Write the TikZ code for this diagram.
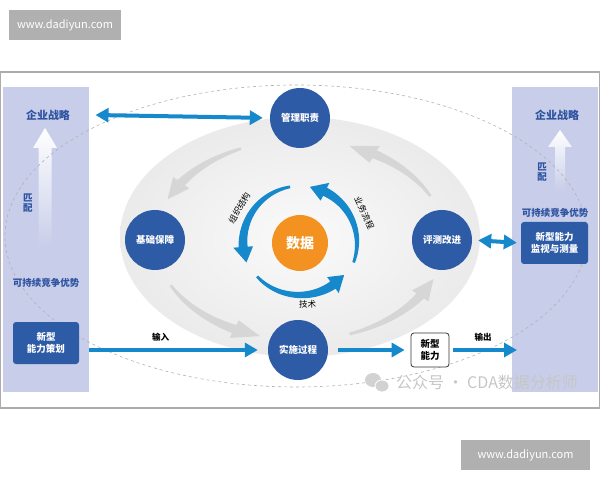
\documentclass[tikz,border=0pt]{standalone}
\usepackage{fontspec}
\setmainfont{Noto Sans CJK SC}
\usetikzlibrary{arrows.meta,positioning}

\definecolor{bleufonce}{RGB}{46,91,166}
\definecolor{bleuvif}{RGB}{22,136,204}
\definecolor{panneau}{RGB}{200,206,233}
\definecolor{texteb}{RGB}{45,82,160}
\definecolor{orangedata}{RGB}{243,146,32}

% fleche courbe effilee : rx, ry, debut, fin, demi-largeur, angle de la pointe
\newcommand{\flechecourbe}[6]{%
\fill plot[domain=#3:#4-#6, samples=30]
 ({(#1+(0.3+0.7*(\x-(#3))/(#4-#6-(#3)))*#5)*cos(\x)},{(#2+(0.3+0.7*(\x-(#3))/(#4-#6-(#3)))*#5)*sin(\x)})
 -- ({(#1+2.2*#5)*cos(#4-#6)},{(#2+2.2*#5)*sin(#4-#6)})
 -- ({#1*cos(#4)},{#2*sin(#4)})
 -- ({(#1-2.2*#5)*cos(#4-#6)},{(#2-2.2*#5)*sin(#4-#6)})
 -- plot[domain=#4-#6:#3, samples=30]
 ({(#1-(0.3+0.7*(\x-(#3))/(#4-#6-(#3)))*#5)*cos(\x)},{(#2-(0.3+0.7*(\x-(#3))/(#4-#6-(#3)))*#5)*sin(\x)})
 -- cycle;}

\tikzset{
rond/.style={circle, fill=bleufonce, text=white, inner sep=0pt,
  minimum size=60pt, font=\bfseries\fontsize{9.5}{11}\selectfont},
boite/.style={rounded corners=3pt, fill=bleufonce, text=white, align=center,
  minimum width=66pt, minimum height=42pt, inner sep=0pt,
  font=\bfseries\fontsize{9.5}{12.5}\selectfont},
titre/.style={text=texteb, font=\bfseries\fontsize{11}{13}\selectfont},
sous/.style={text=texteb, font=\bfseries\fontsize{9.5}{11}\selectfont},
vertical/.style={text=texteb, align=center, font=\bfseries\fontsize{9.5}{10}\selectfont},
petit/.style={font=\fontsize{8.5}{10}\selectfont},
fleche/.style={bleuvif, line width=4pt, -{Triangle[length=13pt,width=14pt]}},
filigrane/.style={fill=gray!62, text=white, inner sep=0pt,
  font=\fontsize{11}{13}\selectfont, minimum height=30pt}
}

\begin{document}
\begin{tikzpicture}[x=1pt,y=1pt]
\useasboundingbox (0,0) rectangle (600,480);

% Filigranes
\node[filigrane, minimum width=112pt] (wm1) at (65,455) {www.dadiyun.com};
\node[filigrane, minimum width=129pt] (wm2) at (525.5,25) {www.dadiyun.com};

% Cadre
\draw[gray!65, line width=1.2pt] (0.6,72) rectangle (599.4,408);

% Panneaux
\fill[panneau] (3,88) rectangle (89,393);
\fill[panneau] (512,88) rectangle (598,393);
\shade[top color=white, bottom color=panneau]
 (38.5,233) -- (38.5,332) -- (33,332) -- (45,352) -- (57,332) -- (51.5,332) -- (51.5,233) -- cycle;
\shade[top color=white, bottom color=panneau]
 (555,290) -- (555,333) -- (548,333) -- (560,350) -- (572,333) -- (565,333) -- (565,290) -- cycle;

% Fond gris
\shade[inner color=gray!4, outer color=gray!16] (300,243) ellipse [x radius=180, y radius=120];
\draw[gray!60, dashed, line width=0.6pt] (296,244) ellipse [x radius=291, y radius=151];

% Fleches grises
\begin{scope}[shift={(300,240)}, gray!32]
\flechecourbe{145}{100}{114}{156}{4.5}{11}
\flechecourbe{145}{100}{207}{254}{4.5}{11}
\flechecourbe{145}{100}{290}{337}{4.5}{11}
\flechecourbe{145}{100}{26}{70}{4.5}{11}
\end{scope}

% Panneau gauche
\node[titre] (lstrat) at (48,365) {企业战略};
\node[vertical] (lmatch) at (28,277) {匹\\配};
\node[sous] (lavant) at (46,197) {可持续竞争优势};
\node[boite] (plan) at (46,137) {新型\\能力策划};

% Panneau droit
\node[titre] (rstrat) at (557,365) {企业战略};
\node[vertical] (rmatch) at (542,308) {匹\\配};
\node[sous] (ravant) at (555,267) {可持续竞争优势};
\node[boite, minimum width=67pt] (suivi) at (554.5,237) {新型能力\\监视与测量};

% Cercles
\node[rond] (gestion) at (300,362) {管理职责};
\node[rond] (base) at (155,240) {基础保障};
\node[rond] (eval) at (442,240) {评测改进};
\node[rond] (mise) at (298,130) {实施过程};
\node[circle, fill=orangedata, text=white, inner sep=0pt, minimum size=56pt,
  font=\bfseries\fontsize{14}{16}\selectfont] (donnees) at (300,237) {数据};

% Fleches bleues autour des donnees
\begin{scope}[shift={(donnees.center)}, bleuvif]
\flechecourbe{57}{57}{100}{200}{4.5}{16}
\flechecourbe{56}{52}{220}{322}{4.5}{16}
\flechecourbe{57}{57}{340}{440}{4.5}{16}
\node[petit, text=black, rotate=60] (orga) at (150:70) {组织结构};
\node[petit, text=black, rotate=-65] (flux) at (25:71) {业务流程};
\node[petit, text=black] (tech) at (277:62) {技术};
\end{scope}

% Nouvelle capacite
\node[draw=black!80, line width=0.8pt, fill=white, rounded corners=3pt, align=center,
  minimum width=38pt, minimum height=34pt, inner sep=0pt,
  font=\bfseries\fontsize{9.5}{12.5}\selectfont] (nouveau) at (430,130) {新型\\能力};
\coordinate (sortie) at (517,130);

% Liaisons
\draw[fleche, {Triangle[length=13pt,width=14pt]}-{Triangle[length=13pt,width=14pt]}, shorten >=7pt]
 ([xshift=22pt]lstrat.east) -- (gestion.west);
\draw[fleche, {Triangle[length=13pt,width=14pt]}-{Triangle[length=13pt,width=14pt]}, shorten <=6pt, shorten >=4pt]
 (eval.east) -- (suivi.west);
\draw[fleche, shorten >=10pt] ([xshift=10pt]plan.east |- mise.west) -- (mise.west)
 node[pos=0.4, above=3pt, petit, font=\bfseries\fontsize{8.5}{10}\selectfont, text=black] (entree) {输入};
\draw[fleche, shorten <=10pt, shorten >=6pt] (mise.east) -- (nouveau.west);
\draw[fleche, shorten <=4pt] (nouveau.east) -- (sortie)
 node[midway, above=3pt, font=\bfseries\fontsize{8.5}{10}\selectfont, text=black] (sortietxt) {输出};

% Compte
\fill[gray!35] (373,100) ellipse [x radius=8, y radius=7];
\fill[gray!35, draw=white, line width=0.8pt] (382,94) ellipse [x radius=7, y radius=6];
\node[text=gray!45, font=\fontsize{16}{18}\selectfont] (compte) at (487,98) {公众号 · CDA数据分析师};

\end{tikzpicture}
\end{document}
